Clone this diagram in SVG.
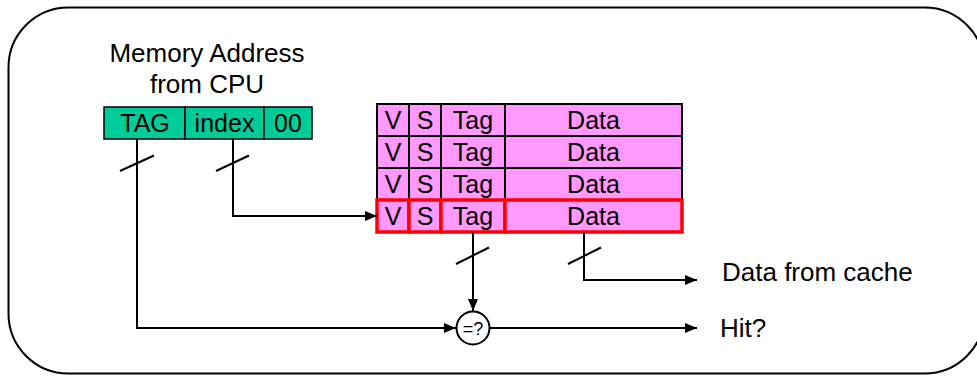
<svg xmlns="http://www.w3.org/2000/svg" width="977" height="376" viewBox="0 0 977 376">
<defs>
<marker id="arr" markerWidth="12" markerHeight="10" refX="12" refY="5" orient="auto" markerUnits="userSpaceOnUse">
<path d="M0,0 L12,5 L0,10 Z" fill="#000"/>
</marker>
<style>
text{font-family:"Liberation Sans",Arial,sans-serif;fill:#000}
.lbl{font-size:26px}
.cell{font-size:25px;text-anchor:middle}
.mid{text-anchor:middle}
.g{fill:#00CC99;stroke:#000;stroke-width:1.5}
.p{fill:#FF99FF;stroke:#000;stroke-width:2}
.r{fill:#FF99FF;stroke:#FF0000;stroke-width:3.5}
.ln{fill:none;stroke:#000;stroke-width:2}
</style>
</defs>
<rect id="frame" x="8.5" y="7.5" width="976" height="366" rx="60" ry="60" fill="#fff" stroke="#000" stroke-width="2"/>
<g id="address-label">
<text class="lbl mid" x="207" y="62">Memory Address</text>
<text class="lbl mid" x="207" y="93">from CPU</text>
</g>
<g id="address">
<rect class="g" x="104" y="107" width="81" height="32"/>
<rect class="g" x="185" y="107" width="79" height="32"/>
<rect class="g" x="264" y="107" width="48" height="32"/>
<text class="cell" x="145" y="132">TAG</text>
<text class="cell" x="224.5" y="132">index</text>
<text class="cell" x="288" y="132">00</text>
</g>
<g id="cache-row-1">
<rect class="p" x="377" y="104" width="32" height="32"/>
<rect class="p" x="409" y="104" width="32" height="32"/>
<rect class="p" x="441" y="104" width="64" height="32"/>
<rect class="p" x="505" y="104" width="177" height="32"/>
<text class="cell" x="393" y="129">V</text><text class="cell" x="425" y="129">S</text><text class="cell" x="473" y="129">Tag</text><text class="cell" x="593.5" y="129">Data</text>
</g>
<g id="cache-row-2">
<rect class="p" x="377" y="136" width="32" height="32"/>
<rect class="p" x="409" y="136" width="32" height="32"/>
<rect class="p" x="441" y="136" width="64" height="32"/>
<rect class="p" x="505" y="136" width="177" height="32"/>
<text class="cell" x="393" y="161">V</text><text class="cell" x="425" y="161">S</text><text class="cell" x="473" y="161">Tag</text><text class="cell" x="593.5" y="161">Data</text>
</g>
<g id="cache-row-3">
<rect class="p" x="377" y="168" width="32" height="32"/>
<rect class="p" x="409" y="168" width="32" height="32"/>
<rect class="p" x="441" y="168" width="64" height="32"/>
<rect class="p" x="505" y="168" width="177" height="32"/>
<text class="cell" x="393" y="193">V</text><text class="cell" x="425" y="193">S</text><text class="cell" x="473" y="193">Tag</text><text class="cell" x="593.5" y="193">Data</text>
</g>
<g id="cache-row-4">
<rect class="r" x="377" y="200" width="32" height="32"/>
<rect class="r" x="409" y="200" width="32" height="32"/>
<rect class="r" x="441" y="200" width="64" height="32"/>
<rect class="r" x="505" y="200" width="177" height="32"/>
<text class="cell" x="393" y="225">V</text><text class="cell" x="425" y="225">S</text><text class="cell" x="473" y="225">Tag</text><text class="cell" x="593.5" y="225">Data</text>
</g>
<g id="compare">
<circle cx="473" cy="328" r="16.5" fill="#fff" stroke="#000" stroke-width="2"/>
<text class="mid" x="473" y="334.5" style="font-size:18px">=?</text>
</g>
<g id="outputs">
<text class="lbl" x="722" y="281">Data from cache</text>
<text class="lbl" x="720" y="337">Hit?</text>
</g>
<g id="connectors">
<path class="ln" d="M137,139 V328 H456" marker-end="url(#arr)"/>
<path class="ln" d="M233,139 V216 H377" marker-end="url(#arr)"/>
<path class="ln" d="M473,232 V311" marker-end="url(#arr)"/>
<path class="ln" d="M584,232 V280 H697" marker-end="url(#arr)"/>
<path class="ln" d="M490,328 H697" marker-end="url(#arr)"/>
<line class="ln" x1="120" y1="171" x2="154" y2="155.5"/>
<line class="ln" x1="216" y1="171" x2="249" y2="155.5"/>
<line class="ln" x1="456" y1="264" x2="489" y2="247.5"/>
<line class="ln" x1="568" y1="264" x2="601" y2="247.5"/>
</g>
</svg>
